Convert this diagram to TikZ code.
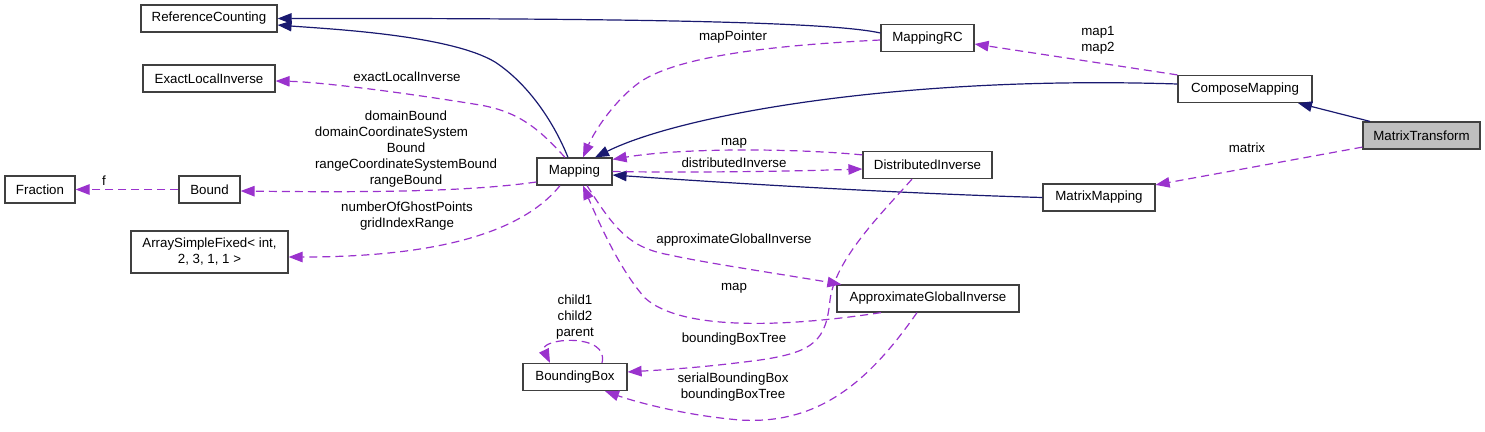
\documentclass[tikz,border=0pt]{standalone}
\usepackage{fontspec}
\setmainfont{Liberation Sans}
\usetikzlibrary{arrows.meta}
\definecolor{inhcol}{HTML}{191970}
\definecolor{usecol}{HTML}{9A32CD}
\definecolor{boxline}{HTML}{404040}
\definecolor{curfill}{HTML}{BFBFBF}
\begin{document}
\begin{tikzpicture}[x=1pt,y=-1pt,
  font=\fontsize{13.3}{16}\selectfont,
  cls/.style={draw=boxline,line width=1.2pt,fill=white,inner sep=0pt,minimum height=27pt,align=center},
  inh/.style={draw=inhcol,line width=1.2pt,-{Triangle[length=14pt,width=10.5pt,fill=inhcol]}},
  use/.style={draw=usecol,line width=1.2pt,dash pattern=on 8pt off 5pt,-{Triangle[length=14pt,width=10.5pt,fill=usecol]}},
  lbl/.style={inner sep=0pt,align=center}]
\useasboundingbox (0,0) rectangle (1485,431);
% classes
\node[cls,minimum width=136pt] (RC) at (209,18.5) {ReferenceCounting};
\node[cls,minimum width=132pt] (ELI) at (209,78.5) {ExactLocalInverse};
\node[cls,minimum width=70pt] (Fraction) at (40,189.5) {Fraction};
\node[cls,minimum width=61pt] (Bound) at (209.5,189.5) {Bound};
\node[cls,minimum width=157pt,minimum height=42pt] (ASF) at (209.5,252) {ArraySimpleFixed< int,\\2, 3, 1, 1 >};
\node[cls,minimum width=75pt] (Mapping) at (574.5,171.5) {Mapping};
\node[cls,minimum width=93pt] (MRC) at (927.5,38) {MappingRC};
\node[cls,minimum width=134pt] (CM) at (1245,89) {ComposeMapping};
\node[cls,minimum width=117pt,fill=curfill] (MT) at (1421.5,135.5) {MatrixTransform};
\node[cls,minimum width=129pt] (DI) at (927.5,165) {DistributedInverse};
\node[cls,minimum width=112pt] (MM) at (1099,197.5) {MatrixMapping};
\node[cls,minimum width=182pt] (AGI) at (928,298.5) {ApproximateGlobalInverse};
\node[cls,minimum width=104pt] (BB) at (575,377) {BoundingBox};
% inheritance
\draw[inh] ([yshift=5pt]MRC.west) .. controls (840,24) and (700,18) .. (RC.east);
\draw[inh] ([xshift=-6.5pt]Mapping.north) .. controls (555,125) and (530,85) .. (495,62) .. controls (450,35) and (330,29) .. ([yshift=-6.5pt]RC.east);
\draw[inh] ([yshift=5pt]CM.west) .. controls (900,75) and (680,115) .. ([xshift=20.5pt]Mapping.north);
\draw[inh] (MM.west) .. controls (950,195) and (800,188) .. ([yshift=-3.5pt]Mapping.east);
\draw[inh] ([xshift=-51.5pt]MT.north) -- ([xshift=53pt]CM.south);
% usage
\draw[use] ([yshift=-2pt]MRC.west) .. controls (780,45) and (680,55) .. (640,82) .. controls (615,100) and (595,130) .. ([xshift=8.5pt]Mapping.north);
\draw[use] (CM.north west) -- ([yshift=-6pt]MRC.east);
\draw[use] ([yshift=2.5pt]MT.south west) -- ([yshift=-1.5pt]MM.north east);
\draw[use] ([xshift=-9.5pt]Mapping.north) .. controls (540,130) and (520,112) .. (480,105) .. controls (400,92) and (320,82) .. ([yshift=-2.5pt]ELI.east);
\draw[use] ([yshift=-10.5pt]Mapping.west) .. controls (480,190) and (400,193) .. ([yshift=-1.5pt]Bound.east);
\draw[use] (Bound.west) -- (Fraction.east);
\draw[use] ([xshift=-14.5pt]Mapping.south) .. controls (520,235) and (430,257) .. ([yshift=-5pt]ASF.east);
\draw[use] ([yshift=-4pt]DI.north west) .. controls (790,148) and (680,148) .. ([yshift=-2pt]Mapping.north east);
\draw[use] (Mapping.east) .. controls (700,173) and (800,171) .. ([yshift=-4pt]DI.west);
\draw[use] ([xshift=12.5pt]Mapping.south) .. controls (615,230) and (630,248) .. (670,255) .. controls (700,262) and (780,274) .. ([xshift=5pt]AGI.north west);
\draw[use] ([xshift=-47pt]AGI.south) .. controls (780,328) and (680,330) .. (645,298) .. controls (620,270) and (600,225) .. ([xshift=8.5pt]Mapping.south);
\draw[use] ([xshift=-15.5pt]DI.south) .. controls (880,215) and (835,260) .. (830,300) .. controls (826,340) and (815,352) .. (760,360) .. controls (700,368) and (660,370) .. ([yshift=5pt]BB.east);
\draw[use] ([xshift=-11pt]AGI.south) .. controls (870,380) and (820,425) .. (740,420) .. controls (680,415) and (630,400) .. ([xshift=30pt]BB.south);
\draw[use] ([xshift=27pt]BB.north) .. controls (610,332) and (538,338) .. ([xshift=-25pt]BB.north);
% labels
\node[lbl] (lMapPointer) at (733,37) {mapPointer};
\node[lbl] (lMap12) at (1098,40) {map1\\map2};
\node[lbl] (lMatrix) at (1247,148) {matrix};
\node[lbl] (lELI) at (407,77) {exactLocalInverse};
\node[lbl] (lBound) at (406,149) {domainBound\\domainCoordinateSystem\rule{29pt}{0pt}\\Bound\\rangeCoordinateSystemBound\\rangeBound};
\node[lbl] (lF) at (104,181) {f};
\node[lbl] (lASF) at (407,216) {numberOfGhostPoints\\gridIndexRange};
\node[lbl] (lMapDI) at (734,143) {map};
\node[lbl] (lDI) at (734,163) {distributedInverse};
\node[lbl] (lAGI) at (734,240) {approximateGlobalInverse};
\node[lbl] (lMapAGI) at (734,288) {map};
\node[lbl] (lBBT) at (734,339) {boundingBoxTree};
\node[lbl] (lSBB) at (733,387) {serialBoundingBox\\boundingBoxTree};
\node[lbl] (lChild) at (575,317) {child1\\child2\\parent};
\end{tikzpicture}
\end{document}
